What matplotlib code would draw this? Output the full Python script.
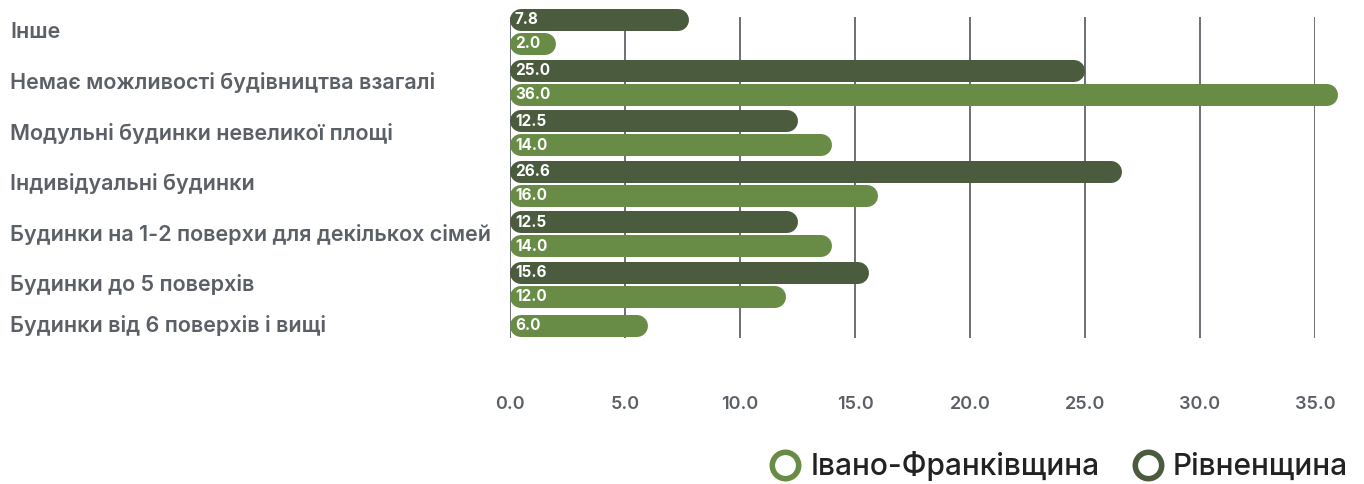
import numpy as np
import matplotlib
matplotlib.use("Agg")
import matplotlib.pyplot as plt
from matplotlib.lines import Line2D

# --- data ---
categories = [
    "Інше",
    "Немає можливості будівництва взагалі",
    "Модульні будинки невеликої площі",
    "Індивідуальні будинки",
    "Будинки на 1-2 поверхи для декількох сімей",
    "Будинки до 5 поверхів",
    "Будинки від 6 поверхів і вищі",
]
rivne = [7.8, 25.0, 12.5, 26.6, 12.5, 15.6, None]
ivano = [2.0, 36.0, 14.0, 16.0, 14.0, 12.0, 6.0]
series_names = ["Івано-Франківщина", "Рівненщина"]
x_ticks = [0, 5, 10, 15, 20, 25, 30, 35]

# --- style ---
plt.rcParams["font.family"] = ["Inter", "DejaVu Sans"]
DARK = "#4a5b3e"
GREEN = "#688c45"
GRID = "#52575d"
LABEL = "#5b5f66"

W, H, DPI = 1364, 484, 100
fig = plt.figure(figsize=(W / DPI, H / DPI), dpi=DPI)
ax = fig.add_axes([510 / W, 1 - 338 / H, (1315 - 510) / W, (338 - 17) / H])

# row positions: full step per pair, a single bar row sits a bit closer
ypos = []
y = 0.0
for i in range(len(categories)):
    if i > 0:
        y += 1.0 if rivne[i] is not None else 0.81
    ypos.append(y)
ypos = np.array(ypos)

ax.set_xlim(0, 35)
ax.set_ylim(6.05, -0.296)

bar_px = 22
px_per_unit = (1315 - 510) / 35
r = bar_px / 2 / px_per_unit  # round cap radius in data units
lw = bar_px * 72 / DPI
off = 0.237


def draw_bar(yc, v, color):
    ax.plot([r, max(v - r, r)], [yc, yc], color=color, lw=lw,
            solid_capstyle="round", clip_on=False, zorder=3)
    ax.annotate(f"{v:.1f}", (0, yc), xytext=(3.5, 0), textcoords="offset points",
                va="center", ha="left", color="white", fontsize=11,
                fontweight="bold", zorder=4, annotation_clip=False)


for yc, rv, iv in zip(ypos, rivne, ivano):
    if rv is None:
        draw_bar(yc, iv, GREEN)
    else:
        draw_bar(yc - off, rv, DARK)
        draw_bar(yc + off, iv, GREEN)

# vertical grid
for t in x_ticks:
    ax.axvline(t, color=GRID, lw=1.2, zorder=1)

for s in ax.spines.values():
    s.set_visible(False)

ax.set_xticks(x_ticks)
ax.set_xticklabels([f"{t:.1f}" for t in x_ticks])
ax.tick_params(axis="x", length=0, pad=42, labelsize=13, labelcolor=LABEL)
for lab in ax.get_xticklabels():
    lab.set_fontweight("semibold")

ax.set_yticks(ypos - 0.04)
ax.set_yticklabels(categories)
ax.tick_params(axis="y", length=0, pad=(510 - 10) * 72 / DPI,
               labelsize=15.5, labelcolor=LABEL)
for lab in ax.get_yticklabels():
    lab.set_horizontalalignment("left")
    lab.set_fontweight("semibold")

handles = [
    Line2D([], [], ls="none", marker="o", markersize=19, markerfacecolor="white",
           markeredgecolor=c, markeredgewidth=4)
    for c in (GREEN, DARK)
]
fig.legend(handles, series_names, loc="center right",
           bbox_to_anchor=(1360 / W, 1 - 466 / H), ncol=2, frameon=False,
           prop={"size": 21.5, "weight": "medium"}, handletextpad=0.25,
           columnspacing=1.0, handlelength=1.2, labelcolor="#222222",
           borderaxespad=0)

fig.savefig("out.png", dpi=DPI)
